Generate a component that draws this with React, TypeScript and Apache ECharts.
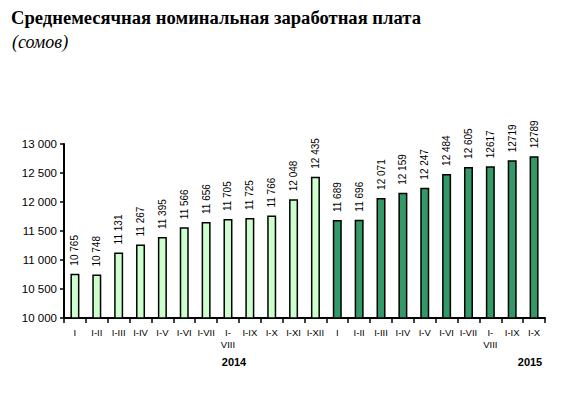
import React, { useEffect, useRef } from "react";
import * as echarts from "echarts";

const monthLabels = ["I", "I-II", "I-III", "I-IV", "I-V", "I-VI", "I-VII", "I-\nVIII", "I-IX", "I-X", "I-XI", "I-XII"];
const labels2014 = monthLabels.slice(0, 12);
const labels2015 = monthLabels.slice(0, 8).concat(["I-IX", "I-X"]);
const values2014 = [10765, 10748, 11131, 11267, 11395, 11566, 11656, 11705, 11725, 11766, 12048, 12435];
const values2015 = [11689, 11696, 12071, 12159, 12247, 12484, 12605, 12617, 12719, 12789];
const labelText2015 = ["11 689", "11 696", "12 071", "12 159", "12 247", "12 484", "12 605", "12617", "12719", "12789"];
const yearLabels = ["2014", "2015"];
const yTicks = [10000, 10500, 11000, 11500, 12000, 12500, 13000];

const fmt = (v: number) => String(v).replace(/\B(?=(\d{3})+(?!\d))/g, " ");

export default function App() {
  const ref = useRef<HTMLDivElement>(null);
  useEffect(() => {
    if (!ref.current) return;
    const chart = echarts.init(ref.current, undefined, { renderer: "svg" });
    const cats = labels2014.concat(labels2015);
    const data = [
      ...values2014.map((v) => ({
        value: v,
        itemStyle: { color: "#ccffcc" },
        label: { formatter: fmt(v) },
      })),
      ...values2015.map((v, i) => ({
        value: v,
        itemStyle: { color: "#339966" },
        label: { formatter: labelText2015[i] },
      })),
    ];
    chart.setOption({
      animation: false,
      backgroundColor: "#ffffff",
      textStyle: { fontFamily: "Arial, 'Liberation Sans', sans-serif" },
      graphic: [
        {
          type: "text",
          left: 11,
          top: 8,
          style: {
            text: "Среднемесячная номинальная заработная плата",
            font: "bold 18.6px 'Liberation Serif', 'Times New Roman', serif",
            fill: "#000",
          },
        },
        {
          type: "text",
          left: 12,
          top: 33,
          style: {
            text: "(сомов)",
            font: "italic 18px 'Liberation Serif', 'Times New Roman', serif",
            fill: "#000",
          },
        },
        {
          type: "text",
          x: 234,
          y: 362,
          style: {
            text: yearLabels[0],
            font: "bold 11px 'Liberation Sans', Arial, sans-serif",
            fill: "#000",
            align: "center",
            verticalAlign: "middle",
          },
        },
        {
          type: "text",
          x: 530,
          y: 362,
          style: {
            text: yearLabels[1],
            font: "bold 11px 'Liberation Sans', Arial, sans-serif",
            fill: "#000",
            align: "center",
            verticalAlign: "middle",
          },
        },
      ],
      grid: { left: 64, right: 18, top: 144, bottom: 77, containLabel: false },
      xAxis: {
        type: "category",
        data: cats.map((_, i) => String(i)),
        axisLine: { lineStyle: { color: "#000", width: 2 } },
        axisTick: { show: true, alignWithLabel: false, length: 5, lineStyle: { color: "#000", width: 1.5 } },
        axisLabel: {
          interval: 0,
          formatter: (_: string, idx: number) => cats[idx],
          color: "#000",
          fontSize: 9.5,
          margin: 8,
          lineHeight: 12,
          fontFamily: "'Liberation Sans', Arial, sans-serif",
        },
      },
      yAxis: {
        type: "value",
        min: yTicks[0],
        max: yTicks[yTicks.length - 1],
        interval: 500,
        axisLine: { show: true, lineStyle: { color: "#000", width: 2 } },
        axisTick: { show: true, length: 4, lineStyle: { color: "#000", width: 1.5 } },
        splitLine: { show: false },
        axisLabel: {
          formatter: (v: number) => fmt(v),
          color: "#000",
          fontSize: 11.5,
          margin: 7,
          fontFamily: "'Liberation Sans', Arial, sans-serif",
        },
      },
      series: [
        {
          type: "bar",
          data,
          barWidth: 9,
          itemStyle: { borderColor: "#000", borderWidth: 1.5 },
          label: {
            show: true,
            position: "top",
            rotate: 90,
            align: "left",
            verticalAlign: "middle",
            distance: 8,
            color: "#000",
            fontSize: 10,
            fontFamily: "'Liberation Sans', Arial, sans-serif",
          },
        },
      ],
    });
    return () => chart.dispose();
  }, []);
  return <div ref={ref} style={{ width: 563, height: 395, margin: -8 }} />;
}
